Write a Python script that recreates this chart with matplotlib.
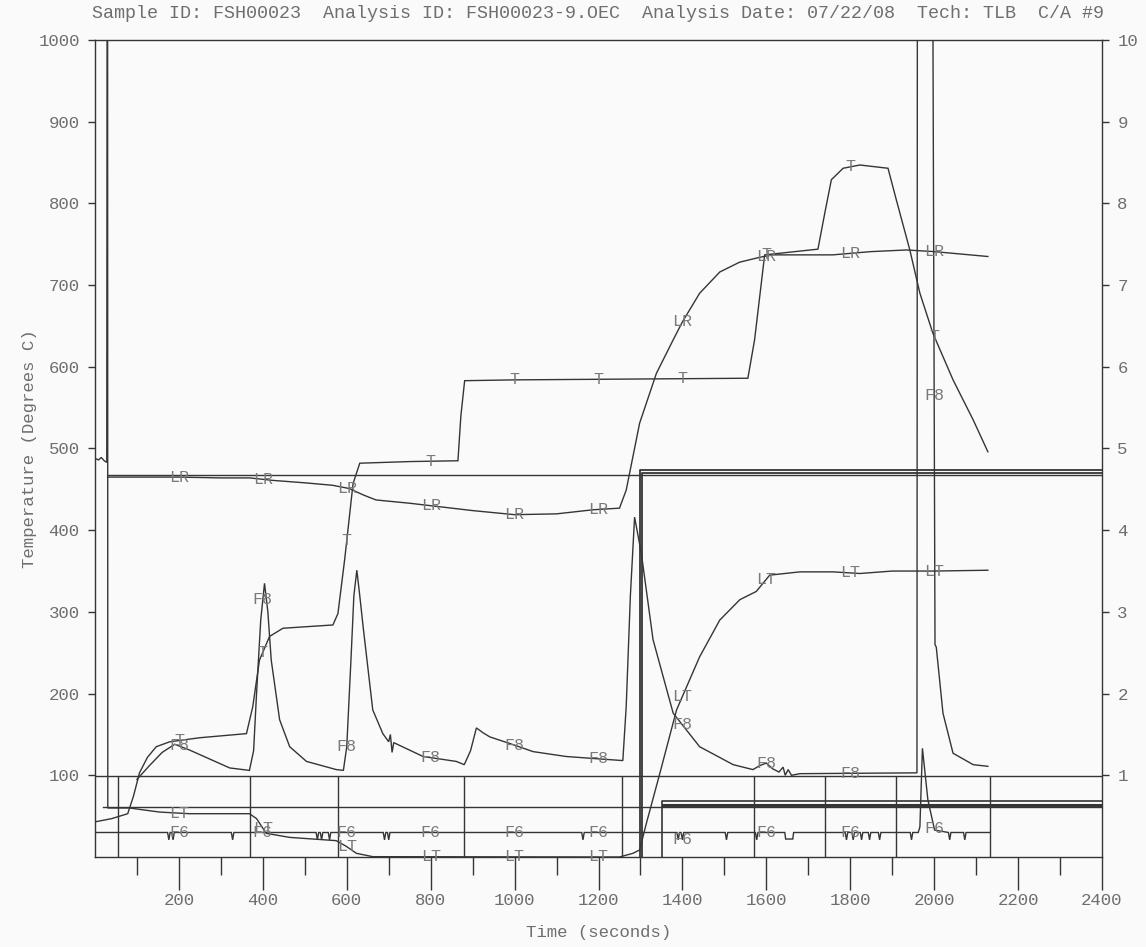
import numpy as np
import matplotlib
matplotlib.use("Agg")
import matplotlib.pyplot as plt
from matplotlib.ticker import FixedLocator

# ---------------- data ----------------
# Temperature trace "T"
t_x = [0, 40, 78, 92, 106, 125, 146, 178, 250, 361, 376, 392, 416, 448, 567, 579, 595,
       615, 631, 750, 865, 872, 881, 1000, 1556, 1572, 1596, 1723, 1740, 1755, 1783, 1823,
       1890, 1910, 1942, 1966, 1997, 2045, 2093, 2128]
t_y = [43, 47, 53, 75, 103, 122, 135, 141, 146, 151, 184, 241, 270, 280, 284, 298, 364,
       457, 482, 484, 485, 540, 583, 584, 586, 633, 737, 744, 790, 829, 843, 847,
       843, 804, 743, 690, 641, 584, 535, 496]

# "LR" trace
lr_pre_x = [0, 8, 15, 22, 28, 29]
lr_pre_y = [488, 486, 489, 485, 483, 1100]
lr_x = [30, 100, 200, 300, 369, 423, 500, 566, 606, 640, 670, 750, 800, 900, 1000, 1100,
        1187, 1250, 1266, 1298, 1338, 1378, 1400, 1441, 1489, 1536, 1584, 1615, 1700, 1758,
        1850, 1934, 2000, 2128]
lr_y = [465, 465, 465, 464, 464, 461, 458, 455, 451, 443, 437, 433, 430, 424, 419, 420,
        425, 427, 449, 531, 592, 633, 655, 690, 716, 728, 734, 737, 737, 737,
        741, 743, 741, 735]

# "LT" trace
lt_x = [30, 30.5, 82, 154, 225, 368, 385, 408, 464, 575, 599, 623, 662, 1250, 1282, 1298,
        1314, 1346, 1386, 1441, 1489, 1537, 1576, 1608, 1680, 1759, 1823, 1900, 2000, 2128]
lt_y = [1100, 60, 60, 55, 53, 53, 47, 29, 24, 20, 13, 4.5, 0.4, 0, 4.5, 8.6,
        41, 102, 180, 245, 290, 315, 325, 345, 349, 349, 347, 350, 350, 351]

# "F8" trace
f8_x = [100, 130, 160, 190, 225, 321, 368, 378, 385, 395, 404, 412, 420, 440, 464, 504, 575,
        592, 600, 610, 617, 624, 631, 639, 662, 686, 700, 704, 708, 712, 782, 861, 880, 895,
        909, 925, 941, 988, 1044, 1123, 1258, 1266, 1276, 1286, 1302, 1330, 1378, 1441,
        1521, 1568, 1585, 1600, 1615, 1630, 1640, 1645, 1652, 1660, 1680, 1959, 1960,
        1996.5, 2002, 2005, 2021, 2045, 2093, 2128]
f8_y = [95, 112, 128, 138, 131, 109, 106, 130, 200, 290, 335, 300, 241, 168, 135, 117, 107,
        106, 135, 241, 320, 351, 320, 282, 180, 151, 141, 150, 128, 140, 123, 117, 113, 130,
        158, 152, 147, 139, 129, 123, 118, 184, 320, 416, 372, 266, 176, 135,
        113, 107, 112, 115, 108, 104, 110, 100, 107, 100, 102, 103, 1100,
        1100, 260, 257, 176, 127, 113, 111]

# "F6" trace (baseline with small dips)
f6_start, f6_end, f6_base = 0, 2133, 30
f6_notch_x = [176, 186, 328, 530, 540, 559, 690, 700, 1163, 1390, 1400, 1505, 1577,
              1791, 1807, 1827, 1846, 1870, 1946, 2037, 2073]
f6_dip_x = [1646, 1663]
f6_spike_x = [1962, 1966, 1972, 1985, 2001]
f6_spike_y = [30, 37, 133, 70, 33]

# segment boxes in the lower strip
box_x = [54, 370, 579, 879, 1255, 1571, 1741, 1908, 2133]
# step / reference lines
ref_100 = 99
ref_60 = 61
hold_level = 467
step_a_x, step_a_y = 1299, 474
step_b_x, step_b_y = 1303, 470
step_c_x, step_c_y = 1351, 68
step_d_y = 64

label_x = [200, 400, 600, 800, 1000, 1200, 1400, 1600, 1800, 2000]
x_major = list(range(200, 2401, 200))
x_minor = list(range(100, 2400, 200))
y_ticks = list(range(100, 1001, 100))
y2_ticks = list(range(1, 11))

title = ("Sample ID: FSH00023  Analysis ID: FSH00023-9.OEC  "
         "Analysis Date: 07/22/08  Tech: TLB  C/A #9")

# ---------------- build F6 ----------------
pts = [(f6_start, f6_base)]
for c in f6_notch_x:
    pts += [(c - 3, f6_base), (c, f6_base - 9), (c + 3, f6_base)]
pts += [(f6_dip_x[0] - 2, f6_base), (f6_dip_x[0], f6_base - 8),
        (f6_dip_x[1], f6_base - 8), (f6_dip_x[1] + 2, f6_base)]
pts += list(zip(f6_spike_x, f6_spike_y))
pts.append((f6_end, f6_base))
pts.sort()
f6_x = [p[0] for p in pts]
f6_y = [p[1] for p in pts]

# ---------------- plotting ----------------
FONT = ["Liberation Mono", "DejaVu Sans Mono"]
LC = "#353535"
TC = "#6e6e6e"
BG = "#fafafa"

fig = plt.figure(figsize=(11.46, 9.47), dpi=100, facecolor=BG)
ax = fig.add_axes([95 / 1146, 1 - 857 / 947, 1007 / 1146, 817 / 947])
ax.set_facecolor(BG)
ax.set_xlim(0, 2400)
ax.set_ylim(0, 1000)

lw = 1.0
kw = dict(color=LC, lw=lw, solid_joinstyle="miter")
ax.plot(t_x, t_y, **kw)
ax.plot(lr_pre_x, lr_pre_y, **kw)
ax.plot(lr_x, lr_y, **kw)
ax.plot(lt_x, lt_y, **kw)
ax.plot(f8_x, f8_y, **kw)
ax.plot(f6_x, f6_y, **kw)

# reference / step lines
ax.axhline(ref_100, color=LC, lw=lw)
ax.plot([18, 2400], [ref_60, ref_60], color=LC, lw=lw)
ax.plot([30, 2400], [hold_level, hold_level], color=LC, lw=lw)
ax.plot([step_a_x, step_a_x, 2400], [0, step_a_y, step_a_y], color=LC, lw=1.3)
ax.plot([step_b_x, step_b_x, 2400], [0, step_b_y, step_b_y], color=LC, lw=1.3)
ax.plot([step_c_x, step_c_x, 2400], [0, step_c_y, step_c_y], color=LC, lw=1.2)
ax.plot([step_c_x + 2, 2400], [step_d_y, step_d_y], color=LC, lw=2.2)
ax.vlines(box_x, 0, ref_100, color=LC, lw=lw)

# inline trace labels
series = [("T", t_x, t_y), ("LR", lr_x, lr_y), ("LT", lt_x, lt_y),
          ("F8", f8_x, f8_y), ("F6", f6_x, f6_y)]
for name, xs, ys in series:
    for lx in label_x:
        if xs[0] <= lx <= xs[-1]:
            ly = float(np.interp(lx, xs, ys))
            ax.text(lx, ly, name, ha="center", va="center", fontsize=12,
                    family=FONT, color="#7a7a7a", zorder=5)

# axes styling
for s in ax.spines.values():
    s.set_color(LC)
    s.set_linewidth(1.0)
ax.xaxis.set_major_locator(FixedLocator(x_major))
ax.xaxis.set_minor_locator(FixedLocator(x_minor))
ax.yaxis.set_major_locator(FixedLocator(y_ticks))
ax.tick_params(axis="x", which="major", direction="out", length=24, width=1.0,
               color=LC, pad=2, labelsize=12.5, labelcolor=TC)
ax.tick_params(axis="x", which="minor", direction="out", length=13, width=1.0, color=LC)
ax.tick_params(axis="y", which="major", direction="out", length=5, width=1.0,
               color=LC, pad=6, labelsize=12.5, labelcolor=TC)
for lab in ax.get_xticklabels() + ax.get_yticklabels():
    lab.set_family(FONT)

ax2 = ax.twinx()
ax2.set_ylim(0, 10)
ax2.yaxis.set_major_locator(FixedLocator(y2_ticks))
ax2.tick_params(axis="y", direction="out", length=5, width=1.0, color=LC, pad=6,
                labelsize=12.5, labelcolor=TC)
for lab in ax2.get_yticklabels():
    lab.set_family(FONT)
for s in ax2.spines.values():
    s.set_visible(False)

ax.set_xlabel("Time (seconds)", family=FONT, fontsize=12.5, color=TC)
ax.xaxis.set_label_coords(0.5, -0.083)
ax.set_ylabel("Temperature (Degrees C)", family=FONT, fontsize=12.5, color=TC)
ax.yaxis.set_label_coords(-0.0576, 0.5)

fig.text(598 / 1146, 1 - 14 / 947, title, ha="center", va="center",
         family=FONT, fontsize=13.2, color=TC)

fig.savefig("out.png", dpi=100, facecolor=BG)
